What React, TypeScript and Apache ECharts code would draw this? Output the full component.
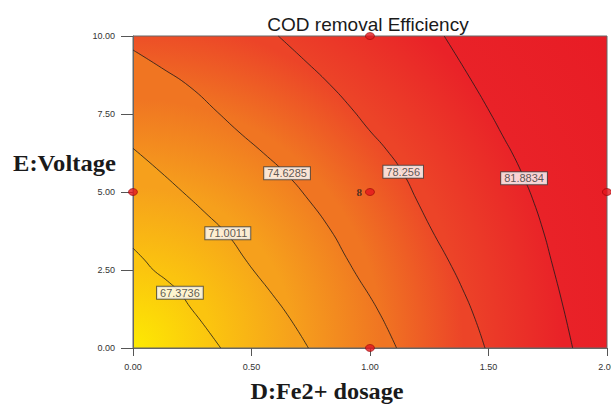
import React, { useEffect, useRef } from "react";
import * as echarts from "echarts";

// Axis ranges / ticks
const xTicks = [0, 0.5, 1, 1.5, 2];
const yTicks = [0, 2.5, 5, 7.5, 10];

// Contour levels (COD removal efficiency)
const contourLevels = [67.3736, 71.0011, 74.6285, 78.256, 81.8834];

// Contour lines: [D (Fe2+ dosage), E (Voltage)]
const contour1 = [[0, 3.2], [0.049, 2.82], [0.086, 2.5], [0.145, 2.15], [0.198, 1.77], [0.24, 1.32], [0.283, 0.9], [0.33, 0.42], [0.37, 0]];
const contour2 = [[0, 6.4], [0.1, 5.75], [0.21, 5.0], [0.3, 4.37], [0.4, 3.62], [0.473, 2.85], [0.507, 2.5], [0.588, 1.72], [0.662, 0.95], [0.74, 0]];
const contour3 = [[0, 9.55], [0.12, 8.98], [0.24, 8.37], [0.358, 7.55], [0.443, 6.95], [0.55, 6.25], [0.65, 5.55], [0.73, 4.85], [0.834, 3.78], [0.9, 2.9], [0.95, 2.25], [1.0, 1.65], [1.04, 1.12], [1.075, 0.6], [1.112, 0]];
const contour4 = [[0.613, 10], [0.72, 9.25], [0.83, 8.45], [0.92, 7.7], [0.995, 7.0], [1.07, 6.35], [1.14, 5.6], [1.197, 4.74], [1.261, 3.78], [1.335, 2.75], [1.39, 1.9], [1.44, 1.0], [1.485, 0]];
const contour5 = [[1.313, 10], [1.43, 8.55], [1.51, 7.5], [1.56, 6.8], [1.61, 6.1], [1.65, 5.44], [1.685, 4.8], [1.73, 3.78], [1.765, 2.8], [1.815, 1.32], [1.855, 0]];
const contours = [contour1, contour2, contour3, contour4, contour5];

// Contour label positions
const labelPoints = [[0.198, 1.77], [0.4, 3.68], [0.65, 5.6], [1.14, 5.65], [1.65, 5.44]];

// Design points
const designPoints = [[0, 5], [2, 5], [1, 10], [1, 0]];
const centerPoint = [[1, 5]];
const centerReplicates = 8;

// Colour ramp: centre, each contour level, far corner
const rampColors = ["#fdea02", "#fbc40f", "#f6a01c", "#f07522", "#ec4428", "#e92228", "#e81c25"];

const dist = (a: number[], b: number[]) => Math.hypot(a[0] - b[0], a[1] - b[1]);

export default function App() {
  const ref = useRef<HTMLDivElement>(null);
  useEffect(() => {
    if (!ref.current) return;
    const chart = echarts.init(ref.current, undefined, { renderer: "svg" });

    const renderBackground = (params: any, api: any) => {
      const cs = params.coordSys;
      const o = api.coord([0, 0]);
      const radii = contours.map((c) => {
        let s = 0;
        c.forEach((p) => (s += dist(api.coord(p), o)));
        return s / c.length;
      });
      const rMax = dist(api.coord([2, 10]), o);
      const grad = (r0: number, r1: number, c0: string, c1: string) => ({
        type: "radial",
        x: o[0],
        y: o[1],
        r: r1,
        global: true,
        colorStops: [
          { offset: Math.max(0, Math.min(1, r0 / r1)), color: c0 },
          { offset: 1, color: c1 },
        ],
      });
      const children: any[] = [];
      children.push({
        type: "rect",
        shape: { x: cs.x, y: cs.y, width: cs.width, height: cs.height },
        style: { fill: grad(radii[4], rMax, rampColors[5], rampColors[6]) },
      });
      for (let k = contours.length - 1; k >= 0; k--) {
        const c = contours[k];
        const pts = [[0, 0], [0, c[0][1]], ...c].map((p) => api.coord(p));
        children.push({
          type: "polygon",
          shape: { points: pts },
          style: { fill: grad(k === 0 ? 0 : radii[k - 1], radii[k], rampColors[k], rampColors[k + 1]) },
        });
      }
      children.push({
        type: "rect",
        shape: { x: cs.x, y: cs.y, width: cs.width, height: cs.height },
        style: { fill: "none", stroke: "#666", lineWidth: 1 },
      });
      return { type: "group", children };
    };

    const option: any = {
      animation: false,
      grid: { left: 133, right: 4, top: 36, bottom: 56, containLabel: false, outerBoundsMode: "none" },
      xAxis: {
        type: "value",
        min: xTicks[0],
        max: xTicks[xTicks.length - 1],
        interval: 0.5,
        axisLine: { show: true, lineStyle: { color: "#666" } },
        axisTick: { show: true, length: 8, lineStyle: { color: "#555" } },
        axisLabel: { fontSize: 9, color: "#333", fontFamily: "Liberation Sans", margin: 14, formatter: (v: number) => v.toFixed(2) },
        splitLine: { show: false },
      },
      yAxis: {
        type: "value",
        min: yTicks[0],
        max: yTicks[yTicks.length - 1],
        interval: 2.5,
        axisLine: { show: true, lineStyle: { color: "#666" } },
        axisTick: { show: true, length: 12, lineStyle: { color: "#555" } },
        axisLabel: { fontSize: 9, color: "#333", fontFamily: "Liberation Sans", margin: 18, formatter: (v: number) => v.toFixed(2) },
        splitLine: { show: false },
      },
      graphic: [
        {
          type: "text",
          x: 368,
          y: 24,
          style: { text: "COD removal Efficiency", font: "19px 'Liberation Sans'", fill: "#1a1a1a", align: "center", verticalAlign: "middle", textAlign: "center", textVerticalAlign: "middle" },
        },
        {
          type: "text",
          x: 13,
          y: 163,
          scaleX: 1.07,
          style: { text: "E:Voltage", font: "bold 23px 'Liberation Serif'", fill: "#1a1a1a", align: "left", verticalAlign: "middle", textAlign: "left", textVerticalAlign: "middle" },
        },
        {
          type: "text",
          x: 327,
          y: 391,
          scaleX: 1.055,
          style: { text: "D:Fe2+ dosage", font: "bold 23px 'Liberation Serif'", fill: "#1a1a1a", align: "center", verticalAlign: "middle", textAlign: "center", textVerticalAlign: "middle" },
        },
      ],
      series: [
        {
          type: "custom",
          renderItem: renderBackground,
          data: [[0, 0]],
          silent: true,
          z: 0,
        },
        ...contours.map((c) => ({
          type: "line",
          data: c,
          smooth: 0.5,
          symbol: "none",
          showSymbol: false,
          silent: true,
          lineStyle: { color: "#1c1c1c", width: 0.8 },
          z: 3,
        })),
        {
          type: "scatter",
          data: labelPoints,
          symbolSize: 0,
          silent: true,
          z: 6,
          label: {
            show: true,
            position: "inside",
            formatter: (p: any) => String(contourLevels[p.dataIndex]),
            fontSize: 11,
            fontFamily: "Liberation Sans",
            color: "#333",
            backgroundColor: "#ffffff",
            borderColor: "#444",
            borderWidth: 1,
            padding: [1, 3, 0, 3],
            lineHeight: 11,
          },
        },
        {
          type: "scatter",
          data: designPoints,
          symbol: "circle",
          symbolSize: [9, 7],
          clip: false,
          silent: true,
          z: 7,
          itemStyle: { color: "#e3161d", borderColor: "#8b0000", borderWidth: 0.7 },
        },
        {
          type: "scatter",
          data: centerPoint,
          symbol: "circle",
          symbolSize: [9, 7],
          clip: false,
          silent: true,
          z: 7,
          itemStyle: { color: "#e3161d", borderColor: "#8b0000", borderWidth: 0.7 },
          label: {
            show: true,
            position: "left",
            distance: 3,
            formatter: () => String(centerReplicates),
            fontFamily: "Liberation Serif",
            fontWeight: "bold",
            fontSize: 11,
            color: "#222",
          },
        },
      ],
    };
    chart.setOption(option);
    return () => chart.dispose();
  }, []);
  return <div ref={ref} style={{ width: 611, height: 404, position: "absolute", left: 0, top: 0 }} />;
}
